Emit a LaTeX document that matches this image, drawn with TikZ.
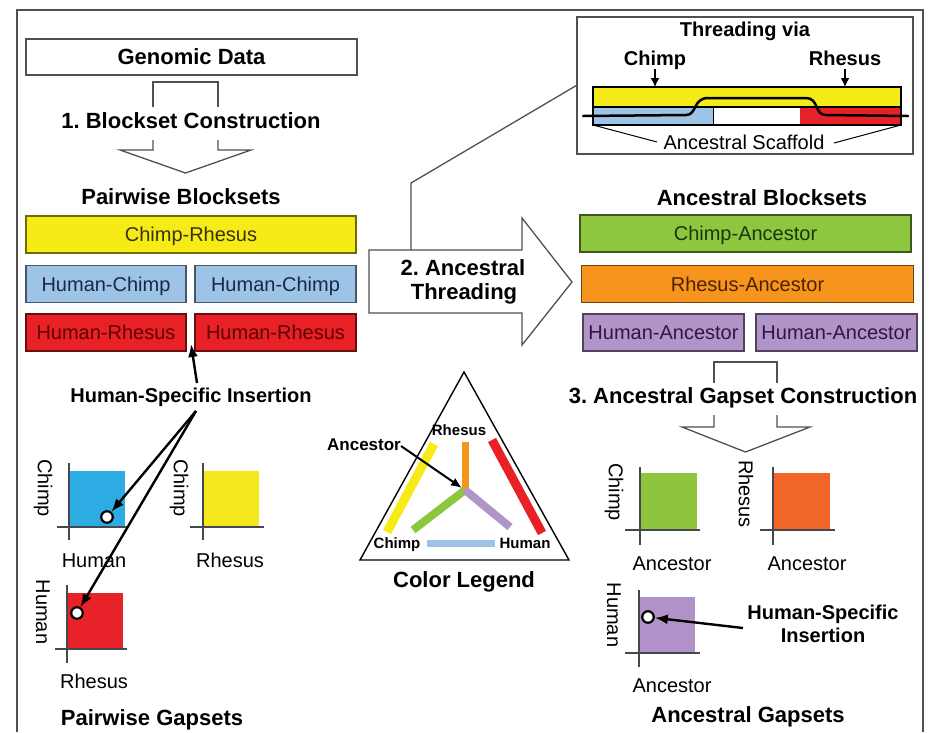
\documentclass[tikz,border=0pt]{standalone}
\usepackage{fontspec}
\setmainfont{Liberation Sans}
\usetikzlibrary{arrows.meta}

% palette
\definecolor{cyel}{RGB}{246,235,22}
\definecolor{clblue}{RGB}{157,195,230}
\definecolor{cred}{RGB}{232,33,39}
\definecolor{cgreen}{RGB}{141,198,63}
\definecolor{corange}{RGB}{247,148,30}
\definecolor{cpurple}{RGB}{178,149,200}
\definecolor{psky}{RGB}{45,172,228}
\definecolor{pyel}{RGB}{245,232,28}
\definecolor{pred}{RGB}{232,34,40}
\definecolor{pgreen}{RGB}{143,196,62}
\definecolor{porange}{RGB}{241,102,40}
\definecolor{ppurple}{RGB}{176,146,200}
\definecolor{framegray}{RGB}{80,80,80}
\definecolor{axisgray}{RGB}{70,72,80}
\definecolor{tyel}{RGB}{55,50,10}
\definecolor{tblue}{RGB}{25,40,70}
\definecolor{tred}{RGB}{95,0,0}
\definecolor{tgreen}{RGB}{25,55,15}
\definecolor{torange}{RGB}{75,35,0}
\definecolor{tpurple}{RGB}{50,20,75}

\tikzset{
  title/.style={font=\fontsize{22}{26}\selectfont\bfseries, inner sep=0pt, anchor=base},
  subtitle/.style={font=\fontsize{20}{24}\selectfont\bfseries, inner sep=0pt, anchor=base},
  plain/.style={font=\fontsize{20}{24}\selectfont, inner sep=0pt, anchor=base},
  tiny/.style={font=\fontsize{15}{18}\selectfont\bfseries, inner sep=0pt, anchor=base},
  ylab/.style={font=\fontsize{20}{24}\selectfont, inner sep=0pt, rotate=-90, anchor=center},
  blk/.style 2 args={draw=#1!45!black, fill=#1, text=#2, line width=1.2pt,
    minimum height=37pt, inner sep=0pt, text height=14.3pt, text depth=0pt,
    font=\fontsize{20}{24}\selectfont},
  outline/.style={draw=framegray, line width=1.3pt},
  axis/.style={draw=axisgray, line width=1.4pt},
  ptr/.style={draw=black, line width=2.4pt, -{Latex[length=13pt,width=10pt]}},
  dot/.style={circle, draw=black, fill=white, line width=2.2pt, minimum size=11.5pt, inner sep=0pt},
  legbar/.style={line width=8pt},
}

\begin{document}
\frenchspacing
\begin{tikzpicture}[x=1pt,y=-1pt]
\useasboundingbox (0,0) rectangle (933,732);

% outer frame (open at the bottom)
\draw[framegray, line width=1.5pt] (17,732) -- (17,10) -- (923,10) -- (923,732);

% ---------------- step 1: pairwise blocksets ----------------
\node[draw=framegray, line width=1.2pt, minimum width=331pt, minimum height=36pt,
      inner sep=0pt, text height=15.8pt, text depth=0pt,
      font=\fontsize{22}{26}\selectfont\bfseries] (gen) at (191.5,57) {Genomic Data};

% hollow block arrow, broken by its caption
\draw[outline] (153,107) -- (153,82) -- (218,82) -- (218,107);
\draw[outline, line join=miter] (153,140) -- (153,150) -- (120,150) -- (185.5,173)
      -- (251,150) -- (218,150) -- (218,140);
\node[title] (step1) at (191,128) {1. Blockset Construction};

\node[title] (pbs) at (181,204) {Pairwise Blocksets};

\node[blk={cyel}{tyel}, minimum width=330pt] (cr) at (191,234.5) {Chimp-Rhesus};
\node[blk={clblue}{tblue}, minimum width=160pt] (hc1) at (106,284) {Human-Chimp};
\node[blk={clblue}{tblue}, minimum width=161pt] (hc2) at (275.5,284) {Human-Chimp};
\node[blk={cred}{tred}, minimum width=160pt] (hr1) at (106,332.5) {Human-Rhesus};
\node[blk={cred}{tred}, minimum width=161pt] (hr2) at (275.5,332.5) {Human-Rhesus};

\node[subtitle] (hsi) at (191,402) {Human-Specific Insertion};
\coordinate (hsitop) at (197,383);
\coordinate (gap) at (191,344);
\draw[ptr] (hsitop) -- (gap);

% pairwise gapsets
\fill[psky] (69,471) rectangle (125,527);
\draw[axis] (69,463) -- (69,540);
\draw[axis] (57,527) -- (127,527);
\node[ylab] (py1) at (43,488) {Chimp};
\node[plain] (px1) at (94,567) {Human};

\fill[pyel] (203,471) rectangle (259,527);
\draw[axis] (203,463) -- (203,540);
\draw[axis] (190,527) -- (264,527);
\node[ylab] (py2) at (179,488) {Chimp};
\node[plain] (px2) at (230,567) {Rhesus};

\fill[pred] (67,593) rectangle (123,649);
\draw[axis] (67,585) -- (67,663);
\draw[axis] (55,649) -- (127,649);
\node[ylab] (py3) at (43,612) {Human};
\node[plain] (px3) at (94,688) {Rhesus};

\node[dot] (d1) at (107,517) {};
\node[dot] (d2) at (77,613) {};
\coordinate (hsifoot) at (196,411);
\draw[ptr] (hsifoot) -- (d1);
\draw[ptr] (hsifoot) -- (d2);

\node[title] (pgs) at (152,725) {Pairwise Gapsets};

% ---------------- step 2: threading ----------------
\node[draw=framegray, line width=1.3pt, minimum width=336pt, minimum height=137pt,
      inner sep=0pt] (thr) at (745,85.5) {};
\node[subtitle] (thv) at (745,36) {Threading via};
\node[subtitle] (thc) at (655,65) {Chimp};
\node[subtitle] (thr2) at (845,65) {Rhesus};
\coordinate (tca) at (655,69);
\coordinate (tcb) at (655,87);
\coordinate (tra) at (845,69);
\coordinate (trb) at (845,87);
\draw[line width=1.6pt, -{Latex[length=9pt,width=9pt]}] (tca) -- (tcb);
\draw[line width=1.6pt, -{Latex[length=9pt,width=9pt]}] (tra) -- (trb);

\fill[cyel] (593,87) rectangle (901,107);
\fill[clblue] (593,107) rectangle (713,125);
\fill[cred] (800,107) rectangle (901,125);
\draw[line width=1.3pt] (593,87) rectangle (901,125);
\draw[line width=1.1pt] (593,107) -- (901,107);
\draw[line width=0.9pt] (713,107) -- (713,125);
\draw[line width=2.5pt, line cap=round]
  (583,116) -- (686,115) .. controls (697,115) and (693,98) .. (708,98)
  -- (806,98) .. controls (819,98) and (814,115) .. (826,115) -- (908,116);

\node[plain] (scaf) at (744,149) {Ancestral Scaffold};
\draw[line width=1pt] (593,125) -- (657,142);
\draw[line width=1pt] (901,125) -- (834,143);

\coordinate (bend) at (411,183);
\coordinate (artop) at (411,250);
\draw[framegray, line width=1.3pt] (thr.west) -- (bend) -- (artop);

\draw[outline, fill=white, line join=miter]
  (369,250) -- (522,250) -- (522,218) -- (572,282) -- (522,345)
  -- (522,313) -- (369,313) -- cycle;
\node[title] (st2a) at (463,275) {2. Ancestral};
\node[title] (st2b) at (464,299) {Threading};

% ---------------- ancestral blocksets ----------------
\node[title] (abs) at (762,205) {Ancestral Blocksets};
\node[blk={cgreen}{tgreen}, minimum width=331pt] (ca) at (745.5,233.5) {Chimp-Ancestor};
\node[blk={corange}{torange}, minimum width=332pt] (ra) at (747.5,284) {Rhesus-Ancestor};
\node[blk={cpurple}{tpurple}, minimum width=161pt] (ha1) at (663.5,332.5) {Human-Ancestor};
\node[blk={cpurple}{tpurple}, minimum width=161pt] (ha2) at (836.5,332.5) {Human-Ancestor};

% step 3 hollow block arrow
\draw[outline] (714,383) -- (714,362) -- (777,362) -- (777,383);
\draw[outline, line join=miter] (714,415) -- (714,427) -- (682,427) -- (745.5,452)
      -- (810,427) -- (777,427) -- (777,415);
\node[title] (step3) at (743,403) {3. Ancestral Gapset Construction};

% ancestral gapsets
\fill[pgreen] (640,473) rectangle (697,530);
\draw[axis] (640,467) -- (640,545);
\draw[axis] (625,530) -- (700,530);
\node[ylab] (ay1) at (614,492) {Chimp};
\node[plain] (ax1) at (672,570) {Ancestor};

\fill[porange] (773,473) rectangle (830,530);
\draw[axis] (773,467) -- (773,545);
\draw[axis] (760,530) -- (835,530);
\node[ylab] (ay2) at (746,494) {Rhesus};
\node[plain] (ax2) at (807,570) {Ancestor};

\fill[ppurple] (639,597) rectangle (695,653);
\draw[axis] (639,590) -- (639,667);
\draw[axis] (625,653) -- (700,653);
\node[ylab] (ay3) at (614,615) {Human};
\node[plain] (ax3) at (672,692) {Ancestor};

\node[dot] (d3) at (648,617) {};
\node[subtitle] (hsr1) at (823,619) {Human-Specific};
\node[subtitle] (hsr2) at (823,642) {Insertion};
\coordinate (hsrfoot) at (743,628);
\draw[ptr] (hsrfoot) -- (d3);

\node[title] (ags) at (748,722) {Ancestral Gapsets};

% ---------------- colour legend ----------------
\draw[black, line width=1.4pt, line join=miter] (464,372) -- (569,560) -- (360,560) -- cycle;
\coordinate (hub) at (465,490);
\draw[legbar, cyel, line width=9pt] (434,444) -- (387,532);
\draw[legbar, corange, line width=7pt] (465,442) -- (hub);
\draw[legbar, cred, line width=9pt] (492,440) -- (542,533);
\draw[legbar, cgreen] (hub) -- (413,530);
\draw[legbar, cpurple] (hub) -- (510,527);
\draw[legbar, clblue, line width=7pt] (427,543) -- (495,543);
\node[tiny] (lrh) at (459,435) {Rhesus};
\node[tiny] (lch) at (397,548) {Chimp};
\node[tiny] (lhu) at (525,548) {Human};
\node[font=\fontsize{17}{20}\selectfont\bfseries, inner sep=0pt, anchor=base] (lan) at (364,450) {Ancestor};
\coordinate (lanend) at (401,446);
\coordinate (hubtip) at (462,488);
\draw[line width=2pt, -{Latex[length=11pt,width=9pt]}] (lanend) -- (hubtip);
\node[title] (leg) at (464,587) {Color Legend};

\end{tikzpicture}
\end{document}
